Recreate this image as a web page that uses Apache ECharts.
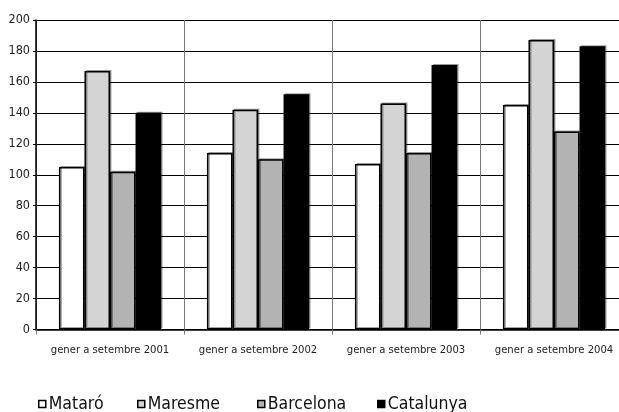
<!DOCTYPE html>
<html><head><meta charset="utf-8">
<script src="https://cdn.jsdelivr.net/npm/echarts@6/dist/echarts.min.js"></script>
<style>html,body{margin:0;padding:0;background:#fff}#c{width:619px;height:412px}</style>
</head><body><div id="c"></div>
<script>
const categories = ['gener a setembre 2001','gener a setembre 2002','gener a setembre 2003','gener a setembre 2004'];
const seriesNames = ['Mataró','Maresme','Barcelona','Catalunya'];
const mataro = [105, 114, 107, 145];
const maresme = [167, 142, 146, 187];
const barcelona = [102, 110, 114, 128];
const catalunya = [140, 152, 171, 183];
const yTicks = [0,20,40,60,80,100,120,140,160,180,200];

const FONT = '"Liberation Sans Narrow","Arial Narrow","DejaVu Sans Condensed",sans-serif';
const colors = ['#ffffff','#d4d4d4','#b3b3b3','#000000'];
const values = [mataro, maresme, barcelona, catalunya];
const legendLefts = [33, 132, 252, 372];

const chart = echarts.init(document.getElementById('c'), null, {renderer:'canvas'});
chart.setOption({
  animation:false,
  backgroundColor:'#fff',
  textStyle:{fontFamily:FONT},
  grid:{left:36, top:20, width:592, height:309.5, containLabel:false, outerBoundsMode:'none'},
  xAxis:{
    type:'category', data:categories,
    axisLine:{lineStyle:{color:'#000', width:1.5}},
    axisTick:{show:true, interval:0, length:5, lineStyle:{color:'#777'}},
    splitLine:{show:true, interval:0, lineStyle:{color:'#777', width:1}},
    axisLabel:{color:'#222', fontSize:11.2, fontFamily:FONT, margin:15, interval:0}
  },
  yAxis:{
    type:'value', min:yTicks[0], max:yTicks[yTicks.length-1], interval:20,
    axisLine:{show:true, lineStyle:{color:'#000', width:1.5}},
    axisTick:{show:true, length:3, lineStyle:{color:'#000'}},
    splitLine:{show:true, lineStyle:{color:'#000', width:1}},
    axisLabel:{color:'#222', fontSize:12.5, fontFamily:FONT, margin:6}
  },
  legend: seriesNames.map((n,i)=>({
    data:[n], left:legendLefts[i], top:390, itemWidth:7, itemHeight:7, itemGap:0,
    icon:'rect',
    textStyle:{fontSize:17.5, color:'#111', fontFamily:FONT, padding:[0,0,0,-2]},
    itemStyle:{borderColor:'#000', borderWidth:1.5}
  })),
  series: seriesNames.map((n,i)=>({
    name:n, type:'bar', data:values[i],
    barGap:'0%', barCategoryGap:'31%',
    itemStyle:{color:colors[i], borderColor:'#000', borderWidth:1.5,
      shadowColor:'rgba(0,0,0,0.35)', shadowOffsetX:1.5, shadowOffsetY:-1, shadowBlur:0}
  }))
});
</script></body></html>
